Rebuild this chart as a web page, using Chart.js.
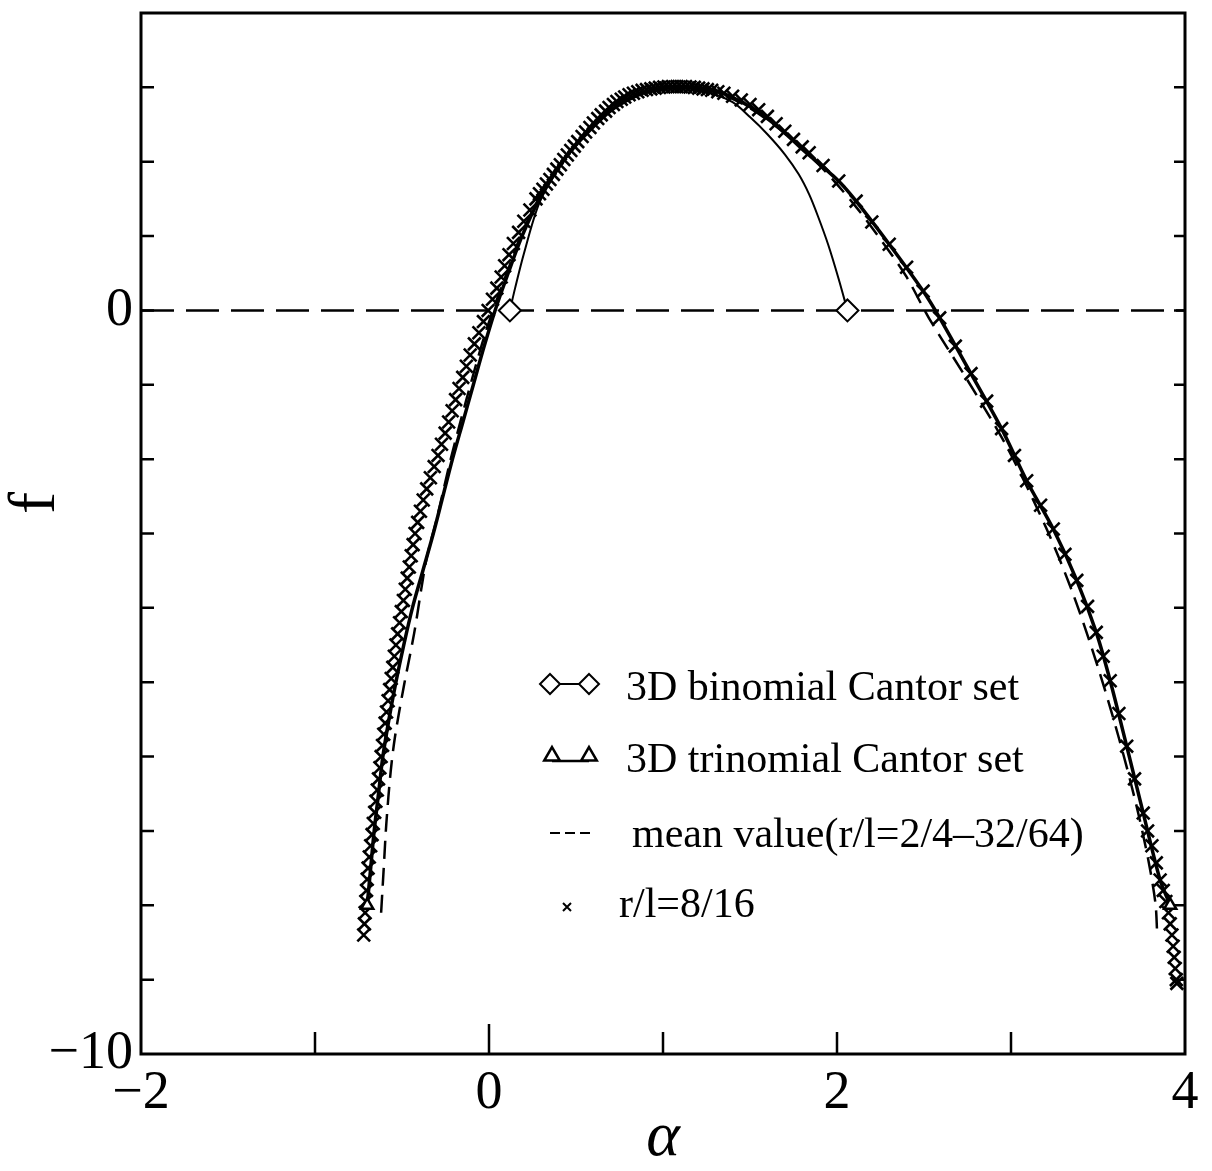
<!DOCTYPE html>
<html><head><meta charset="utf-8">
<script src="https://cdn.jsdelivr.net/npm/chart.js@4.4.1/dist/chart.umd.min.js"></script>
<style>html,body{margin:0;padding:0;background:#fff}#wrap{width:1212px;height:1171px;position:relative}</style>
</head><body><div id="wrap"><canvas id="c"></canvas></div>
<script>
// ---- data ----
const binomAlpha = [0.12, 0.15, 0.20, 0.29, 0.41, 0.55, 0.70, 0.85, 1.00, 1.10, 1.25, 1.40, 1.50, 1.60, 1.70, 1.78, 1.84, 1.89, 1.95, 2.01, 2.06];
const binomF     = [0, 0.30, 0.76, 1.45, 1.94, 2.36, 2.70, 2.89, 2.98, 3.0, 2.94, 2.80, 2.60, 2.37, 2.10, 1.83, 1.56, 1.27, 0.88, 0.42, 0];

const trinomAlpha = [-0.70, -0.68, -0.66, -0.635, -0.61, -0.575, -0.535, -0.49, -0.44, -0.38, -0.32, -0.265, -0.21, -0.15, -0.09, -0.03, 0.035, 0.11, 0.19, 0.29, 0.42, 0.57, 0.72, 0.88, 1.0, 1.12, 1.30, 1.50, 1.66, 1.80, 2.0, 2.11, 2.30, 2.495, 2.59, 2.77, 2.946, 3.09, 3.243, 3.378, 3.49, 3.57, 3.665, 3.76, 3.857, 3.915];
const trinomF     = [-8.0, -7.5, -7.0, -6.5, -6.0, -5.5, -5.0, -4.5, -4.0, -3.5, -3.0, -2.5, -2.0, -1.5, -1.0, -0.5, 0.0, 0.5, 1.0, 1.5, 2.0, 2.4, 2.72, 2.92, 2.99, 3.0, 2.96, 2.74, 2.47, 2.17, 1.76, 1.47, 0.89, 0.26, -0.10, -0.85, -1.59, -2.29, -2.94, -3.63, -4.33, -4.98, -5.86, -6.76, -7.66, -8.0];

const meanAlpha = [-0.62, -0.605, -0.59, -0.565, -0.54, -0.49, -0.43, -0.36, -0.30, -0.22, -0.13, -0.04, 0.03, 0.11, 0.19, 0.29, 0.41, 0.56, 0.71, 0.87, 1.0, 1.12, 1.30, 1.50, 1.70, 1.90, 2.10, 2.28, 2.40, 2.53, 2.74, 2.975, 3.205, 3.358, 3.50, 3.62, 3.72, 3.79, 3.83, 3.84];
const meanF     = [-8.1, -7.5, -6.9, -6.2, -5.73, -5.06, -4.34, -3.35, -2.8, -2.0, -1.2, -0.45, 0.05, 0.55, 1.05, 1.52, 1.98, 2.38, 2.71, 2.91, 2.98, 3.0, 2.94, 2.72, 2.38, 1.95, 1.42, 0.86, 0.45, -0.11, -0.90, -1.83, -2.94, -3.82, -4.80, -5.75, -6.65, -7.4, -7.97, -8.37];

const crossAlpha = [
  -0.72, -0.716, -0.712, -0.708, -0.704, -0.70, -0.695, -0.688, -0.68, -0.672, -0.665, -0.657, -0.65, -0.642, -0.635, -0.627, -0.62, -0.612, -0.605, -0.597,
  -0.589, -0.58, -0.571, -0.562, -0.553, -0.544, -0.535, -0.525, -0.514, -0.504, -0.492, -0.481, -0.47, -0.458, -0.447, -0.436, -0.425, -0.41, -0.394, -0.378,
  -0.358, -0.337, -0.315, -0.293, -0.273, -0.252, -0.232, -0.212, -0.192, -0.172, -0.151, -0.13, -0.108, -0.084, -0.058, -0.032, -0.005,
  0.02, 0.045, 0.07, 0.09, 0.115, 0.14, 0.17, 0.20, 0.235, 0.27, 0.29, 0.31, 0.33, 0.35, 0.37, 0.39, 0.41, 0.43, 0.45, 0.47, 0.49, 0.51, 0.535, 0.555,
  0.58, 0.60, 0.625, 0.645, 0.67, 0.69, 0.715, 0.735, 0.76, 0.78, 0.805, 0.83, 0.855, 0.88, 0.905, 0.93, 0.955, 0.98, 1.005, 1.03, 1.055, 1.08, 1.105, 1.13,
  1.155, 1.18, 1.205, 1.23, 1.255, 1.28, 1.315, 1.35, 1.40, 1.45, 1.50, 1.55, 1.60, 1.65, 1.70, 1.75, 1.80, 1.84, 1.92, 2.01, 2.11, 2.20, 2.30, 2.40, 2.495,
  2.59, 2.68, 2.77, 2.86, 2.946, 3.02, 3.09, 3.17, 3.243, 3.31, 3.378, 3.44, 3.49, 3.53, 3.57, 3.62, 3.665, 3.71, 3.76, 3.785, 3.81, 3.835, 3.857, 3.875,
  3.89, 3.905, 3.915, 3.925, 3.932, 3.938, 3.944, 3.95, 3.953];
const crossF = [
  -8.4, -8.25, -8.1, -7.95, -7.8, -7.65, -7.5, -7.35, -7.2, -7.05, -6.9, -6.75, -6.6, -6.45, -6.3, -6.15, -6.0, -5.85, -5.7, -5.55,
  -5.4, -5.25, -5.1, -4.95, -4.8, -4.65, -4.5, -4.35, -4.2, -4.05, -3.9, -3.75, -3.6, -3.45, -3.3, -3.15, -3.0, -2.85, -2.7, -2.55,
  -2.4, -2.25, -2.1, -1.95, -1.8, -1.65, -1.5, -1.35, -1.2, -1.05, -0.9, -0.75, -0.6, -0.45, -0.3, -0.15, 0.0,
  0.15, 0.3, 0.45, 0.6, 0.75, 0.9, 1.05, 1.2, 1.35, 1.5, 1.57, 1.63, 1.70, 1.76, 1.83, 1.9, 1.96, 2.03, 2.09, 2.15, 2.21, 2.27, 2.34, 2.4,
  2.46, 2.52, 2.58, 2.63, 2.68, 2.73, 2.77, 2.81, 2.84, 2.87, 2.90, 2.92, 2.94, 2.96, 2.97, 2.98, 2.99, 3.0, 3.005, 3.01, 3.01, 3.01, 3.01, 3.01,
  3.005, 3.0, 2.99, 2.98, 2.97, 2.96, 2.94, 2.92, 2.88, 2.83, 2.77, 2.70, 2.61, 2.51, 2.41, 2.30, 2.20, 2.12, 1.95, 1.74, 1.47, 1.19, 0.89, 0.58, 0.26,
  -0.10, -0.48, -0.85, -1.22, -1.59, -1.95, -2.29, -2.62, -2.94, -3.28, -3.63, -3.98, -4.33, -4.65, -4.98, -5.42, -5.86, -6.3, -6.76, -7.0, -7.2, -7.43, -7.66, -7.8,
  -7.95, -8.1, -8.25, -8.4, -8.55, -8.7, -8.85, -9.0, -9.05];

const zeroAlpha = [-2, 4];
const zeroF     = [0, 0];

const xTickLabels = {"-2": "\u22122", "0": "0", "2": "2", "4": "4"};
const yTickLabels = {"0": "0", "-10": "\u221210"};
const seriesNames = ["3D binomial Cantor set", "3D trinomial Cantor set", "mean value(r/l=2/4\u201332/64)", "r/l=8/16"];
const xTitle = "\u03b1";
const yTitle = "f";

// ---- helpers ----
function pts(xs, ys) { return xs.map((x, i) => ({x: x, y: ys[i]})); }
const SERIF = '"Liberation Serif", "Times New Roman", serif';

function endRadius(n, r) { return ctx => (ctx.dataIndex === 0 || ctx.dataIndex === n - 1) ? r : 0; }

function diamond(ctx, x, y, r) {
  ctx.beginPath(); ctx.moveTo(x, y - r); ctx.lineTo(x + r, y); ctx.lineTo(x, y + r); ctx.lineTo(x - r, y); ctx.closePath();
  ctx.fillStyle = '#fff'; ctx.fill(); ctx.stroke();
}
function triangle(ctx, x, y, r) {
  const h = r * Math.sqrt(3) / 2;
  ctx.beginPath(); ctx.moveTo(x, y - r); ctx.lineTo(x + h, y + r / 2); ctx.lineTo(x - h, y + r / 2); ctx.closePath();
  ctx.fillStyle = '#fff'; ctx.fill(); ctx.stroke();
}

const framePlugin = {
  id: 'frame',
  afterDatasetsDraw(chart) {
    const {ctx, chartArea: a, scales: {x, y}} = chart;
    ctx.save();
    ctx.strokeStyle = '#000';
    ctx.lineWidth = 3;
    ctx.strokeRect(a.left, a.top, a.right - a.left, a.bottom - a.top);
    ctx.lineWidth = 2.5;
    ctx.beginPath();
    y.ticks.forEach(t => {
      const py = y.getPixelForValue(t.value);
      if (py <= a.top + 1 || py >= a.bottom - 1) return;
      ctx.moveTo(a.left, py); ctx.lineTo(a.left + 13, py);
      ctx.moveTo(a.right, py); ctx.lineTo(a.right - 11, py);
    });
    x.ticks.forEach(t => {
      const px = x.getPixelForValue(t.value);
      if (px <= a.left + 1 || px >= a.right - 1) return;
      const len = t.value === 0 ? 30 : 22;
      ctx.moveTo(px, a.bottom); ctx.lineTo(px, a.bottom - len);
    });
    ctx.stroke();
    ctx.restore();
  }
};

const legendPlugin = {
  id: 'customLegend',
  afterDraw(chart) {
    const ctx = chart.ctx;
    ctx.save();
    ctx.strokeStyle = '#000';
    ctx.fillStyle = '#000';
    // row 1: binomial
    ctx.lineWidth = 2;
    ctx.beginPath(); ctx.moveTo(550, 684); ctx.lineTo(589, 684); ctx.stroke();
    diamond(ctx, 550, 684, 10); diamond(ctx, 589, 684, 10);
    // row 2: trinomial
    ctx.lineWidth = 2.5;
    ctx.beginPath(); ctx.moveTo(552, 761); ctx.lineTo(589, 761); ctx.stroke();
    triangle(ctx, 552, 756, 9); triangle(ctx, 589, 756, 9);
    // row 3: dashed
    ctx.lineWidth = 2;
    ctx.beginPath();
    [[550, 560], [565, 575], [580, 590]].forEach(s => { ctx.moveTo(s[0], 833); ctx.lineTo(s[1], 833); });
    ctx.stroke();
    // row 4: cross
    ctx.lineWidth = 2;
    ctx.beginPath();
    ctx.moveTo(563, 903); ctx.lineTo(571, 911); ctx.moveTo(571, 903); ctx.lineTo(563, 911);
    ctx.stroke();
    // texts
    ctx.fillStyle = '#000';
    ctx.font = '42px ' + SERIF;
    ctx.textBaseline = 'alphabetic';
    ctx.textAlign = 'left';
    ctx.fillText(seriesNames[0], 626, 700);
    ctx.fillText(seriesNames[1], 626, 772);
    ctx.fillText(seriesNames[2], 632, 847);
    ctx.fillText(seriesNames[3], 619, 917);
    // y axis title
    ctx.save();
    ctx.translate(37, 503);
    ctx.rotate(-Math.PI / 2);
    ctx.textAlign = 'center';
    ctx.textBaseline = 'middle';
    ctx.font = '66px ' + SERIF;
    ctx.fillText(yTitle, 0, 0);
    ctx.restore();
    ctx.restore();
  }
};

new Chart(document.getElementById('c'), {
  type: 'scatter',
  data: {
    datasets: [
      {label: seriesNames[0], data: pts(binomAlpha, binomF), showLine: true, borderColor: '#000', borderWidth: 2, tension: 0.3,
       pointStyle: 'rectRot', pointRadius: endRadius(binomAlpha.length, 11), pointHoverRadius: 0,
       pointBackgroundColor: '#fff', pointBorderColor: '#000', pointBorderWidth: 2},
      {label: seriesNames[1], data: pts(trinomAlpha, trinomF), showLine: true, borderColor: '#000', borderWidth: 3.5, tension: 0.3,
       pointStyle: 'triangle', pointRadius: endRadius(trinomAlpha.length, 7), pointHoverRadius: 0,
       pointBackgroundColor: '#fff', pointBorderColor: '#000', pointBorderWidth: 2.5},
      {label: seriesNames[3], data: pts(crossAlpha, crossF), showLine: false, borderColor: '#000', backgroundColor: '#000',
       pointStyle: 'crossRot', pointRadius: 9, pointBorderWidth: 2.6, pointHoverRadius: 0},
      {label: seriesNames[2], data: pts(meanAlpha, meanF), showLine: true, borderColor: '#000', borderWidth: 2.5, borderDash: [18, 9],
       tension: 0.3, pointRadius: 0, pointHoverRadius: 0},
      {label: 'zero', data: pts(zeroAlpha, zeroF), showLine: true, borderColor: '#000', borderWidth: 2.5, borderDash: [33, 12],
       pointRadius: 0, pointHoverRadius: 0}
    ]
  },
  options: {
    responsive: true, maintainAspectRatio: false, devicePixelRatio: 1, animation: false,
    layout: {padding: {left: 0, right: 27, top: 12, bottom: 0}},
    plugins: {legend: {display: false}, tooltip: {enabled: false}},
    scales: {
      x: {type: 'linear', min: -2, max: 4,
          afterFit: s => { s.height = 117; s.paddingLeft = 0; s.paddingRight = 0; },
          grid: {display: false, drawTicks: false}, border: {display: false},
          ticks: {stepSize: 1, autoSkip: false, maxRotation: 0, padding: 7, color: '#000',
                  font: {family: SERIF, size: 54},
                  callback: v => (xTickLabels[String(v)] !== undefined ? xTickLabels[String(v)] : '')},
          title: {display: true, text: xTitle, color: '#000', font: {family: SERIF, size: 64, style: 'italic', lineHeight: 1},
                  padding: {top: 0, bottom: 1}}},
      y: {type: 'linear', min: -10, max: 4,
          afterFit: s => { s.width = 141; s.paddingTop = 0; s.paddingBottom = 0; },
          grid: {display: false, drawTicks: false}, border: {display: false},
          ticks: {stepSize: 1, autoSkip: false, padding: 8, color: '#000',
                  font: {family: SERIF, size: 54},
                  callback: v => (yTickLabels[String(v)] !== undefined ? yTickLabels[String(v)] : '')}}
    }
  },
  plugins: [framePlugin, legendPlugin]
});
</script>
</body></html>
